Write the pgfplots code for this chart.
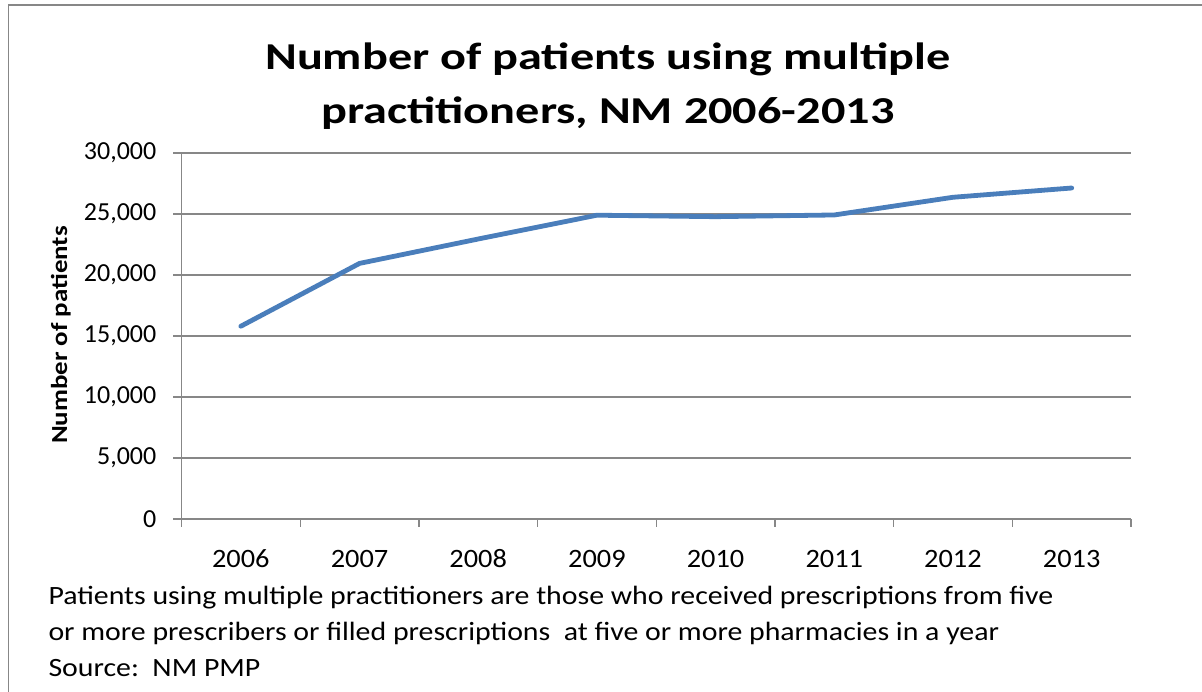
\documentclass[border=0pt]{standalone}
\usepackage{fontspec}
\setmainfont{Carlito}
\newfontfamily\titlefont[FakeStretch=1.27]{Carlito}
\newfontfamily\notefont[FakeStretch=1.13]{Carlito}
\newfontfamily\ylabfont[FakeStretch=1.17]{Carlito}
\newfontfamily\xtickfont[FakeStretch=1.07]{Carlito}
\usepackage{pgfplots}
\pgfplotsset{compat=1.18}
\definecolor{lineblue}{HTML}{4A7EBB}
\definecolor{gridgray}{HTML}{878787}
\begin{document}
\begin{tikzpicture}[x=1pt,y=1pt]
\useasboundingbox (0,0) rectangle (1202,692);
\draw[gridgray, line width=1.5pt] (8.5,0) -- (8.5,687) -- (1202,687);
\begin{axis}[
  at={(181.5pt,173pt)}, anchor=south west,
  scale only axis, width=949.5pt, height=366pt,
  xmin=-0.5, xmax=7.5, ymin=0, ymax=30000,
  axis x line*=bottom, axis y line*=left,
  axis line style={gridgray, line width=1.5pt, -},
  xtick={-0.5,0.5,1.5,2.5,3.5,4.5,5.5,6.5,7.5},
  x tick label as interval,
  xticklabels={2006,2007,2008,2009,2010,2011,2012,2013},
  ytick={0,5000,10000,15000,20000,25000,30000},
  ymajorgrids, major grid style={gridgray, line width=1.3pt},
  tick align=outside, major tick length=8pt,
  tick style={gridgray, line width=1.3pt},
  scaled y ticks=false,
  /pgf/number format/.cd, 1000 sep={,}, assume math mode=true, /pgfplots/.cd,
  tick label style={text=black},
  yticklabel style={font=\fontsize{26}{30}\selectfont, anchor=east, inner sep=0pt, xshift=-17pt},
  xticklabel style={font=\xtickfont\fontsize{26.5}{30}\selectfont, anchor=base, inner sep=0pt, yshift=-41pt},
]
\addplot[lineblue, line width=4.8pt, line cap=round, line join=round] coordinates {
  (0,15800) (1,20950) (2,22950) (3,24900) (4,24780) (5,24920) (6,26370) (7,27130)
};
\end{axis}
\node[anchor=base, font=\titlefont\fontsize{38}{44}\bfseries\selectfont] at (608,622.7) {Number of patients using multiple};
\node[anchor=base, font=\titlefont\fontsize{38}{44}\bfseries\selectfont] at (608,568) {practitioners, NM 2006-2013};
\node[anchor=base, rotate=90, font=\ylabfont\fontsize{23}{27}\bfseries\selectfont] at (67,357) {Number of patients};
\node[anchor=base west, inner sep=0pt, font=\notefont\fontsize{26.4}{30}\selectfont] at (48.3,87.7) {Patients using multiple practitioners are those who received prescriptions from five};
\node[anchor=base west, inner sep=0pt, font=\notefont\fontsize{26.4}{30}\selectfont] at (48.3,51) {or more prescribers or filled prescriptions\ \ at five or more pharmacies in a year};
\node[anchor=base west, inner sep=0pt, font=\notefont\fontsize{26.4}{30}\selectfont] at (48.3,15.3) {Source:\ \ NM PMP};
\end{tikzpicture}
\end{document}
